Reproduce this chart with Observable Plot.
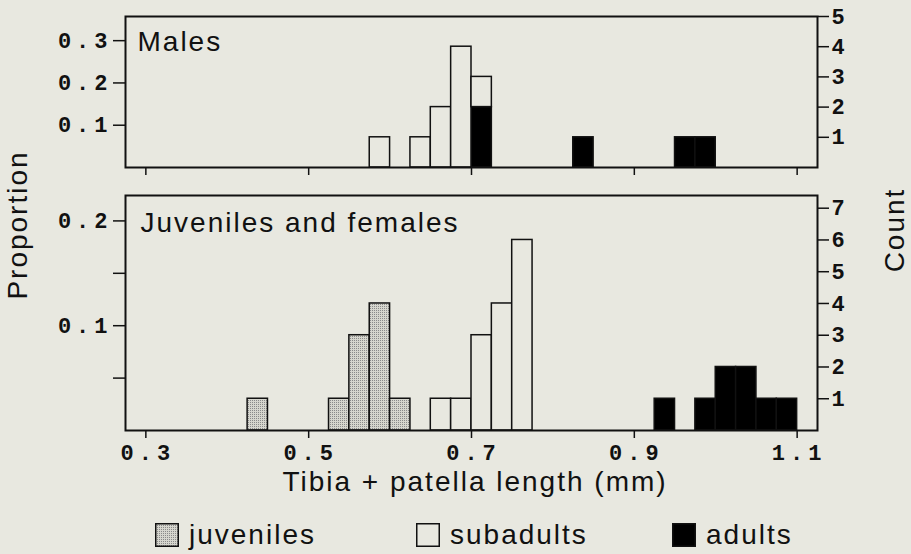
<!DOCTYPE html>
<html><head><meta charset="utf-8">
<script src="https://cdn.jsdelivr.net/npm/d3@7"></script>
<script src="https://cdn.jsdelivr.net/npm/@observablehq/plot@0.6"></script>
<style>
html,body{margin:0;padding:0;background:#e8e8e0;}
#wrap{position:relative;width:911px;height:554px;overflow:hidden;font-family:"Liberation Sans",Arial,sans-serif;color:#111;}
.abs{position:absolute;}
.t{font-size:28px;letter-spacing:2px;white-space:nowrap;line-height:1;}
.rot{transform:translate(-50%,-50%) rotate(-90deg);}
</style></head><body>
<svg width="0" height="0" style="position:absolute"><defs><pattern id="stipple" width="2" height="2" patternUnits="userSpaceOnUse"><rect width="2" height="2" fill="#d6d6ce"/><rect width="1" height="1" fill="#8a8a8a"/></pattern></defs></svg>
<div id="wrap"></div>
<script>
// ---- data ----
const stages = ["juveniles", "subadults", "adults"];
const stageFills = ["url(#stipple)", "#e8e8e0", "#000000"];
const binWidth = 0.025;

const maleSubadultBins = [0.575, 0.625, 0.65, 0.675, 0.70];
const maleSubadultCounts = [1, 1, 2, 4, 1];
const maleAdultBins = [0.70, 0.825, 0.95, 0.975];
const maleAdultCounts = [2, 1, 1, 1];

const femJuvenileBins = [0.425, 0.525, 0.55, 0.575, 0.60];
const femJuvenileCounts = [1, 1, 3, 4, 1];
const femSubadultBins = [0.65, 0.675, 0.70, 0.725, 0.75];
const femSubadultCounts = [1, 1, 3, 4, 6];
const femAdultBins = [0.925, 0.975, 1.0, 1.025, 1.05, 1.075];
const femAdultCounts = [1, 1, 2, 2, 1, 1];

const xTicks = [0.3, 0.5, 0.7, 0.9, 1.1];
const maleTotal = 14;
const femTotal = 33;
const malePropTicks = [0.1, 0.2, 0.3];
const malePropLabels = ["0.1", "0.2", "0.3"];
const maleCountTicks = [1, 2, 3, 4, 5];
const femPropTicks = [0.05, 0.1, 0.15, 0.2];
const femPropLabels = ["", "0.1", "", "0.2"];
const femCountTicks = [1, 2, 3, 4, 5, 6, 7];
const panelTitles = ["Males", "Juveniles and females"];
const xTitle = "Tibia + patella length (mm)";
const yTitleLeft = "Proportion";
const yTitleRight = "Count";

// ---- build stacked rows (adults at bottom) ----
function buildRows(groups) {
  const base = new Map();
  const rows = [];
  for (const g of groups) g.bins.forEach((b, i) => {
    const key = Math.round(b * 1000);
    const y1 = base.get(key) || 0;
    const y2 = y1 + g.counts[i];
    base.set(key, y2);
    rows.push({stage: g.stage, x1: b, x2: b + binWidth, y1, y2});
  });
  return rows;
}
const maleRows = buildRows([
  {stage: "adults", bins: maleAdultBins, counts: maleAdultCounts},
  {stage: "subadults", bins: maleSubadultBins, counts: maleSubadultCounts}
]);
const femRows = buildRows([
  {stage: "adults", bins: femAdultBins, counts: femAdultCounts},
  {stage: "subadults", bins: femSubadultBins, counts: femSubadultCounts},
  {stage: "juveniles", bins: femJuvenileBins, counts: femJuvenileCounts}
]);

const monoFont = "Liberation Mono, Courier New, monospace";
const tickFont = {fontFamily: monoFont, fontWeight: "bold", fontSize: 22};

function panel(o) {
  const svg = Plot.plot({
    width: 911, height: o.height,
    marginLeft: 125, marginRight: 94, marginTop: o.marginTop, marginBottom: o.marginBottom,
    style: {background: "transparent", color: "#111", fontFamily: "Liberation Sans, Arial, sans-serif", overflow: "visible"},
    x: {domain: [0.275, 1.125], axis: null, label: null},
    y: {domain: [0, o.yMax], axis: null, label: null},
    color: {domain: stages, range: stageFills},
    marks: [
      Plot.rect(o.rows, {x1: "x1", x2: "x2", y1: "y1", y2: "y2", fill: "stage", stroke: "#111", strokeWidth: 1.5}),
      Plot.frame({stroke: "#111", strokeWidth: 2}),
      Plot.axisY(o.propTicks.map(p => p * o.total), {
        anchor: "left", tickSize: 12, tickPadding: 1, strokeWidth: 1.5, label: null, ...tickFont,
        tickFormat: d => {
          const i = o.propTicks.findIndex(p => Math.abs(p * o.total - d) < 1e-6);
          return i >= 0 ? o.propLabels[i] : "";
        }
      }),
      Plot.axisY(o.countTicks, {anchor: "right", tickSize: 11, tickPadding: 3, strokeWidth: 1.5, label: null, ...tickFont, tickFormat: d3.format("d")}),
      Plot.axisX(xTicks, {
        anchor: "bottom", tickSize: 8, tickPadding: 6, strokeWidth: 1.5, label: null, ...tickFont,
        tickFormat: o.showX ? d3.format(".1f") : () => ""
      }),
      Plot.text([o.title], {frameAnchor: "top-left", dx: o.dx, dy: o.dy, lineAnchor: "top", textAnchor: "start", fontSize: 28, fill: "#111"})
    ]
  });
  const s = d3.select(svg);
  s.selectAll('g[aria-label$="tick label"]')
    .attr("font-size", 22).attr("font-family", monoFont).attr("font-weight", "bold");
  s.selectAll('g[aria-label$="tick label"] text')
    .attr("letter-spacing", "5px").style("font-size", "22px").style("font-family", monoFont).style("font-weight", "bold");
  s.selectAll('g[aria-label="x-axis tick label"] text').attr("dx", 2);
  s.selectAll('g[aria-label="text"] text').attr("letter-spacing", "2px");
  svg.style.position = "absolute";
  svg.style.left = "0px";
  svg.style.top = o.top + "px";
  return svg;
}

const wrap = document.getElementById("wrap");
wrap.appendChild(panel({
  rows: maleRows, title: panelTitles[0], total: maleTotal,
  propTicks: malePropTicks, propLabels: malePropLabels, countTicks: maleCountTicks,
  yMax: 5, height: 179, marginTop: 16, marginBottom: 12, showX: false, top: 0, dx: 12, dy: 15
}));
wrap.appendChild(panel({
  rows: femRows, title: panelTitles[1], total: femTotal,
  propTicks: femPropTicks, propLabels: femPropLabels, countTicks: femCountTicks,
  yMax: 7.4, height: 290, marginTop: 15, marginBottom: 40, showX: true, top: 180, dx: 15, dy: 17
}));

// ---- titles ----
function addText(txt, css, cls) {
  const d = document.createElement("div");
  d.className = "abs t " + (cls || "");
  d.textContent = txt;
  Object.assign(d.style, css);
  wrap.appendChild(d);
  return d;
}
addText(xTitle, {left: "475px", top: "468px", transform: "translateX(-50%)"});
addText(yTitleLeft, {left: "18px", top: "225px"}, "rot");
addText(yTitleRight, {left: "895px", top: "230px"}, "rot");

// ---- legend ----
const legendX = [155, 416, 672];
stages.forEach((s, i) => {
  const ns = "http://www.w3.org/2000/svg";
  const sw = document.createElementNS(ns, "svg");
  sw.setAttribute("width", 24); sw.setAttribute("height", 24);
  sw.style.position = "absolute"; sw.style.left = legendX[i] + "px"; sw.style.top = "523px";
  const r = document.createElementNS(ns, "rect");
  r.setAttribute("x", 0.75); r.setAttribute("y", 0.75); r.setAttribute("width", 22.5); r.setAttribute("height", 22.5);
  r.setAttribute("fill", stageFills[i]); r.setAttribute("stroke", "#111"); r.setAttribute("stroke-width", 1.5);
  sw.appendChild(r);
  wrap.appendChild(sw);
  addText(s, {left: (legendX[i] + 34) + "px", top: "521px"});
});
</script>
</body></html>
